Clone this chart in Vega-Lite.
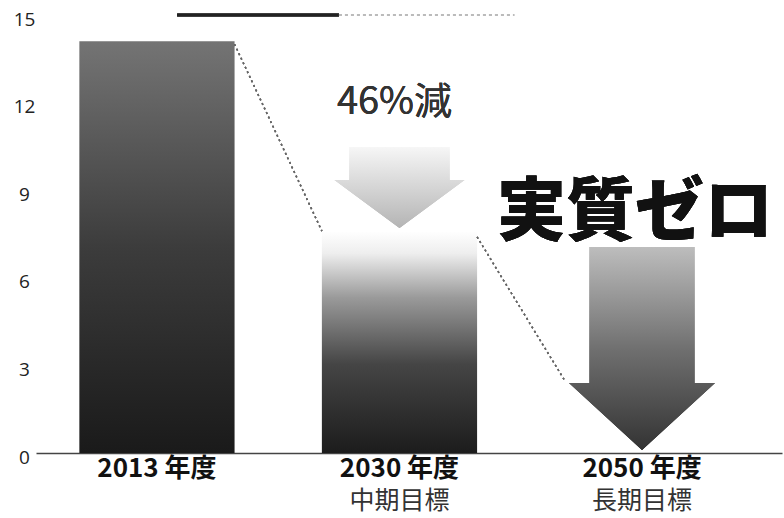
{
  "$schema": "https://vega.github.io/schema/vega-lite/v6.json",
  "width": 746,
  "height": 438,
  "autosize": {"type": "none"},
  "padding": {"left": 36, "top": 15, "right": 2, "bottom": 65},
  "background": "white",
  "config": {"view": {"stroke": null}, "font": "Noto Sans CJK JP"},
  "data": {
    "values": [
      {"year": "2013 年度", "value": 14.1, "sub": ""},
      {"year": "2030 年度", "value": 7.6, "sub": "中期目標"},
      {"year": "2050 年度", "value": 0, "sub": "長期目標"}
    ]
  },
  "encoding": {
    "x": {
      "field": "year",
      "type": "nominal",
      "sort": null,
      "scale": {"domain": ["2013 年度", "2030 年度", "2050 年度"], "paddingInner": 0.36, "paddingOuter": 0.218, "align": 0.41},
      "axis": {"title": null, "labelAngle": 0, "labelFontSize": 26, "labelFontWeight": "bold", "labelColor": "#111", "labelPadding": 2, "ticks": false, "domainColor": "#444", "domainWidth": 1.5, "grid": false}
    }
  },
  "layer": [
    {
      "transform": [{"filter": "datum.year == '2013 年度'"}],
      "mark": {"type": "bar", "color": {"gradient": "linear", "x1": 0, "y1": 0, "x2": 0, "y2": 1, "stops": [{"offset": 0, "color": "#747474"}, {"offset": 0.5, "color": "#3c3c3c"}, {"offset": 1, "color": "#1a1a1a"}]}},
      "encoding": {
        "y": {"field": "value", "type": "quantitative", "scale": {"domain": [0, 15], "nice": false},
          "axis": {"title": null, "values": [0, 3, 6, 9, 12, 15], "grid": false, "domain": false, "ticks": false, "tickSize": 0, "labelPadding": 12, "labelAlign": "center", "labelFontSize": 19, "labelColor": "#222", "labelOffset": 4, "labelFont": "Open Sans"}}
      }
    },
    {
      "transform": [{"filter": "datum.year == '2030 年度'"}],
      "mark": {"type": "bar", "color": {"gradient": "linear", "x1": 0, "y1": 0, "x2": 0, "y2": 1, "stops": [{"offset": 0, "color": "#ffffff"}, {"offset": 0.1, "color": "#eeeeee"}, {"offset": 0.3, "color": "#9a9a9a"}, {"offset": 0.6, "color": "#454545"}, {"offset": 1, "color": "#1c1c1c"}]}},
      "encoding": {"y": {"field": "value", "type": "quantitative"}}
    },
    {
      "mark": {"type": "rule", "color": "#666", "strokeWidth": 1.5, "strokeDash": [2, 3]},
      "encoding": {
        "x": {"datum": "2013 年度", "bandPosition": 1},
        "x2": {"datum": "2030 年度", "bandPosition": 0},
        "y": {"datum": 14.0}, "y2": {"datum": 7.6}
      }
    },
    {
      "mark": {"type": "rule", "color": "#666", "strokeWidth": 1.5, "strokeDash": [2, 3]},
      "encoding": {
        "x": {"datum": "2030 年度", "bandPosition": 1},
        "x2": {"datum": "2050 年度", "bandPosition": 0},
        "y": {"datum": 7.4}, "y2": {"datum": 2.5}
      }
    },
    {
      "mark": {"type": "rule", "color": "#222", "strokeWidth": 3},
      "encoding": {
        "x": {"datum": "2013 年度", "bandPosition": 0.63},
        "x2": {"datum": "2030 年度", "bandPosition": 0.11},
        "y": {"datum": 15}
      }
    },
    {
      "mark": {"type": "rule", "color": "#bbb", "strokeWidth": 1.5, "strokeDash": [3, 3]},
      "encoding": {
        "x": {"datum": "2030 年度", "bandPosition": 0.11},
        "x2": {"datum": "2030 年度", "bandPosition": 1.24},
        "y": {"datum": 15}
      }
    },
    {
      "mark": {"type": "point", "filled": true, "opacity": 1, "strokeWidth": 0, "size": 16900,
        "shape": "M -0.77 -0.623 L 0.77 -0.623 L 0.77 -0.115 L 1 -0.115 L 0 0.623 L -1 -0.115 L -0.77 -0.115 Z",
        "color": {"gradient": "linear", "x1": 0, "y1": 0, "x2": 0, "y2": 1, "stops": [{"offset": 0, "color": "#f6f6f6"}, {"offset": 1, "color": "#b4b4b4"}]}},
      "encoding": {"x": {"datum": "2030 年度"}, "y": {"datum": 9.09}}
    },
    {
      "mark": {"type": "point", "filled": true, "opacity": 1, "strokeWidth": 0, "size": 41209,
        "shape": "M -0.517 -1 L 0.517 -1 L 0.517 0.34 L 0.719 0.34 L 0 1 L -0.719 0.34 L -0.517 0.34 Z",
        "color": {"gradient": "linear", "x1": 0, "y1": 0, "x2": 0, "y2": 1, "stops": [{"offset": 0, "color": "#bdbdbd"}, {"offset": 0.5, "color": "#707070"}, {"offset": 1, "color": "#333333"}]}},
      "encoding": {"x": {"datum": "2050 年度"}, "y": {"datum": 3.58}}
    },
    {
      "mark": {"type": "text", "text": "46%減", "fontSize": 38, "color": "#333", "baseline": "middle", "dx": -5, "font": "Noto Sans CJK JP"},
      "encoding": {"x": {"datum": "2030 年度"}, "y": {"datum": 12.0}}
    },
    {
      "mark": {"type": "text", "text": "実質ゼロ", "fontSize": 69, "fontWeight": 900, "color": "#111", "baseline": "middle", "dx": -7, "font": "Noto Sans CJK JP"},
      "encoding": {"x": {"datum": "2050 年度"}, "y": {"datum": 8.2}}
    },
    {
      "transform": [{"filter": "datum.sub != ''"}],
      "mark": {"type": "text", "fontSize": 25, "color": "#333", "baseline": "top", "dy": 36, "font": "Noto Sans CJK JP"},
      "encoding": {"text": {"field": "sub"}, "y": {"datum": 0}}
    }
  ]
}
